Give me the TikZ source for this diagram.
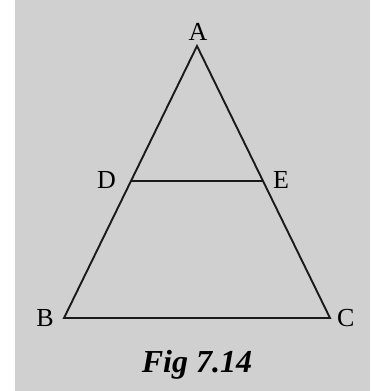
\documentclass[tikz,border=0pt]{standalone}
\usepackage{fontspec}
\setmainfont{Liberation Serif}
\usepackage{tikz}
\usetikzlibrary{calc}

\begin{document}
\begin{tikzpicture}[x=1pt, y=-1pt]

% Colori
\definecolor{colSfondo}{HTML}{D0D0D0}
\definecolor{colLinea}{HTML}{1A1A1A}

% Stili
\tikzset{
  lato/.style={draw=colLinea, line width=1.9pt, line join=miter},
  etichetta/.style={inner sep=0pt, font=\fontsize{26}{28}\selectfont},
}

% Cornice e sfondo
\useasboundingbox (0,0) rectangle (370,391);
\fill[white] (0,0) rectangle (370,391);
\fill[colSfondo] (15,0) rectangle (370,391);

% Vertici
\coordinate (A) at (197,46);
\coordinate (B) at (64,318);
\coordinate (C) at (330,318);
\coordinate (D) at ($(A)!0.4963!(B)$);
\coordinate (E) at ($(A)!0.4963!(C)$);

% Triangolo e segmento DE
\draw[lato] (A) -- (B) -- (C) -- cycle;
\draw[lato] (D) -- (E);

% Etichette dei vertici
\node[etichetta] (labA) at (198,32) {A};
\node[etichetta, anchor=east] (labB) at (54,318) {B};
\node[etichetta, anchor=west] (labC) at (337,318) {C};
\node[etichetta, anchor=east] (labD) at (116,180) {D};
\node[etichetta, anchor=west] (labE) at (273,180) {E};

% Didascalia
\node[inner sep=0pt, font=\fontsize{32}{34}\selectfont\bfseries\itshape] (didascalia) at (197,365) {Fig 7.14};

\end{tikzpicture}
\end{document}
